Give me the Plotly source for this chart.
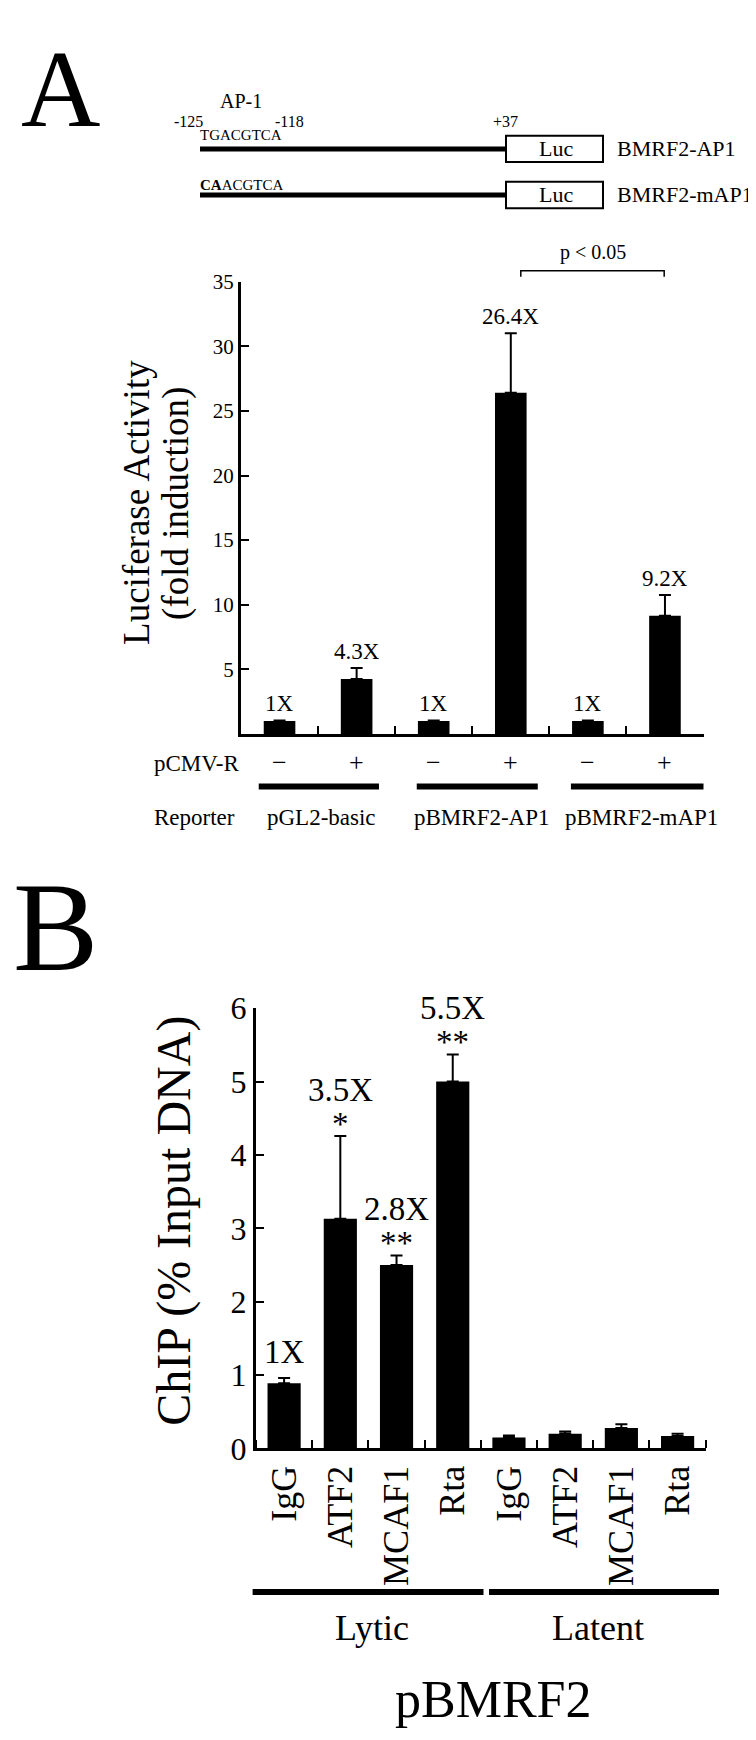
import plotly.graph_objects as go

# ---- data: panel A (luciferase reporter assay) ----
reporters = ["pGL2-basic", "pBMRF2-AP1", "pBMRF2-mAP1"]
rta_signs = ["\u2212", "+", "\u2212", "+", "\u2212", "+"]
fold_mean = [1.0, 4.25, 1.0, 26.4, 1.0, 9.15]
fold_err = [0.05, 0.85, 0.05, 4.6, 0.05, 1.6]
fold_labels = ["1X", "4.3X", "1X", "26.4X", "1X", "9.2X"]
a_yticks = [5, 10, 15, 20, 25, 30, 35]

# ---- data: panel B (ChIP) ----
antibodies = ["IgG", "ATF2", "MCAF1", "Rta", "IgG", "ATF2", "MCAF1", "Rta"]
cell_states = ["Lytic", "Latent"]
chip_mean = [0.89, 3.13, 2.5, 5.0, 0.15, 0.2, 0.28, 0.17]
chip_err = [0.07, 1.13, 0.13, 0.37, 0.025, 0.03, 0.05, 0.03]
chip_fold = ["1X", "3.5X", "2.8X", "5.5X", "", "", "", ""]
chip_sig = ["", "*", "**", "**", "", "", "", ""]
b_yticks = [0, 1, 2, 3, 4, 5, 6]

W, H = 756, 1740
FONT = "Liberation Serif, Times New Roman, serif"


def px(x):
    return x / W


def py(y):
    return 1 - y / H


def txt(text, x, y, size, xanchor="center", angle=0, xref="paper", yref="paper",
        yshift=0, yanchor="middle"):
    return dict(text=text, x=x, y=y, xref=xref, yref=yref, showarrow=False,
                xanchor=xanchor, yanchor=yanchor, textangle=angle, yshift=yshift,
                font=dict(family=FONT, size=size, color="black"))


fig = go.Figure()

# panel A bars
fig.add_trace(go.Bar(
    x=list(range(len(fold_mean))), y=fold_mean, width=0.41,
    marker=dict(color="black", line=dict(width=0)),
    error_y=dict(type="data", symmetric=False, array=fold_err,
                 arrayminus=[0] * len(fold_err), color="black", thickness=2, width=6),
    xaxis="x", yaxis="y", showlegend=False,
))

# panel B bars
fig.add_trace(go.Bar(
    x=list(range(len(chip_mean))), y=chip_mean, width=0.59,
    marker=dict(color="black", line=dict(width=0)),
    error_y=dict(type="data", symmetric=False, array=chip_err,
                 arrayminus=[0] * len(chip_err), color="black", thickness=2, width=6),
    xaxis="x2", yaxis="y2", showlegend=False,
))

axis_common = dict(showline=True, linecolor="black", linewidth=3, showgrid=False,
                   zeroline=False, ticks="inside", ticklen=8, tickwidth=2, tickcolor="black")

fig.update_layout(
    width=W, height=H,
    margin=dict(l=0, r=0, t=0, b=0),
    paper_bgcolor="white", plot_bgcolor="white",
    font=dict(family=FONT, color="black"),
    xaxis=dict(domain=[px(233), px(695.5)], range=[-0.5, 5.5], anchor="y",
               tickvals=[i - 0.5 for i in range(7)], showticklabels=False, **axis_common),
    yaxis=dict(domain=[py(723), py(261)], range=[0, 35], anchor="x",
               tickvals=a_yticks, tickfont=dict(size=21), **axis_common),
    xaxis2=dict(domain=[px(248), px(697.7)], range=[-0.5, 7.5], anchor="y2",
                tickvals=list(range(8)), ticktext=antibodies, tickangle=-90,
                tickfont=dict(size=36),
                showline=True, linecolor="black", linewidth=3, showgrid=False, zeroline=False,
                ticks="",
                minor=dict(tickvals=[i - 0.5 for i in range(9)], ticks="inside",
                           ticklen=8, tickwidth=2, tickcolor="black")),
    yaxis2=dict(domain=[py(1452.5), py(1003)], range=[0, 6], anchor="x2",
                tickvals=b_yticks, tickfont=dict(size=32), **axis_common),
)

ann = []
shapes = []

# ---- panel A header diagram ----
ann.append(txt("A", px(52), 1, 110, yanchor="top"))
ann.append(txt("AP-1", px(233), py(77), 20))
ann.append(txt("-125", px(180), py(98), 16))
ann.append(txt("-118", px(281), py(98), 16))
ann.append(txt("+37", px(497), py(98), 16))
ann.append(txt("TGACGTCA", px(190), py(111), 15, xanchor="left"))
ann.append(txt("<b>CA</b>ACGTCA", px(190), py(162), 15, xanchor="left"))
for ly, label in [(125.5, "BMRF2-AP1"), (172.5, "BMRF2-mAP1")]:
    shapes.append(dict(type="line", xref="paper", yref="paper", x0=px(192), x1=px(498),
                       y0=py(ly), y1=py(ly), line=dict(color="black", width=5)))
    shapes.append(dict(type="rect", xref="paper", yref="paper", x0=px(498), x1=px(595),
                       y0=py(ly - 13.5), y1=py(ly + 13.5), line=dict(color="black", width=2),
                       fillcolor="white"))
    ann.append(txt("Luc", px(548), py(ly), 22))
    ann.append(txt(label, px(607), py(ly), 22, xanchor="left"))

# ---- panel A chart decorations ----
for i, lab in enumerate(fold_labels):
    ann.append(txt(lab, i, fold_mean[i] + fold_err[i], 23, xref="x", yref="y", yshift=17))

ann.append(txt("Luciferase Activity", px(129), py(487), 37, angle=-90))
ann.append(txt("(fold induction)", px(168), py(488), 37, angle=-90))

ann.append(txt("pCMV-R", px(144), py(753), 23, xanchor="left"))
for i, s in enumerate(rta_signs):
    ann.append(txt(s, i, py(752), 26, xref="x"))

group_spans = [(-0.27, 1.29), (1.78, 3.35), (3.78, 5.52)]
for x0, x1 in group_spans:
    shapes.append(dict(type="line", xref="x", yref="paper", x0=x0, x1=x1,
                       y0=py(776.5), y1=py(776.5), line=dict(color="black", width=6)))

ann.append(txt("Reporter", px(144), py(808), 23, xanchor="left"))
for j, rep in enumerate(reporters):
    ann.append(txt(rep, 2 * j + 0.55 + 0.07 * j, py(808), 23, xref="x"))

# significance bracket between pBMRF2-AP1 and pBMRF2-mAP1 (+Rta)
bx0, bx1 = 3.13, 4.99
shapes.append(dict(type="path", xref="x", yref="paper",
                   path=f"M {bx0} {py(256)} L {bx0} {py(250)} L {bx1} {py(250)} L {bx1} {py(256)}",
                   line=dict(color="black", width=1.5)))
ann.append(txt("p < 0.05", (bx0 + bx1) / 2, py(231), 20, xref="x"))

# ---- panel B ----
ann.append(txt("B", px(47), py(920), 128))
ann.append(txt("ChIP (% Input DNA)", px(166), py(1220), 48, angle=-90))

for i in range(len(chip_mean)):
    top = chip_mean[i] + chip_err[i]
    if chip_sig[i]:
        ann.append(txt(chip_fold[i], i, top, 33, xref="x2", yref="y2", yshift=46))
        ann.append(txt(chip_sig[i], i, top, 33, xref="x2", yref="y2", yshift=12))
    elif chip_fold[i]:
        ann.append(txt(chip_fold[i], i, top, 33, xref="x2", yref="y2", yshift=26))

state_spans = [(244.6, 475.5), (481, 711)]
state_centers = [363.7, 589.8]
for (x0, x1), c, state in zip(state_spans, state_centers, cell_states):
    shapes.append(dict(type="line", xref="paper", yref="paper", x0=px(x0), x1=px(x1),
                       y0=py(1599), y1=py(1599), line=dict(color="black", width=6)))
    ann.append(txt(state, px(c), py(1636), 36))

ann.append(txt("pBMRF2", px(485.5), py(1709), 52))

fig.update_layout(annotations=ann, shapes=shapes)

fig.write_html("out.html")
